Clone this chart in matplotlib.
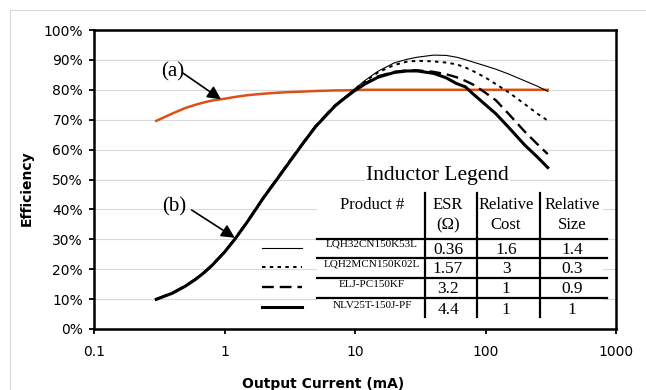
import matplotlib
matplotlib.use("Agg")
import matplotlib.pyplot as plt
from matplotlib.ticker import PercentFormatter, FixedLocator, FixedFormatter, NullLocator
from matplotlib.patches import Rectangle
from matplotlib.lines import Line2D

# output current (mA)
current = [0.3, 0.4, 0.5, 0.6, 0.7, 0.8, 1, 1.2, 1.5, 2, 2.5, 3, 4, 5, 6, 7, 8,
           10, 12, 15, 20, 25, 30, 40, 50, 60, 70, 80, 100, 120, 150, 200, 250, 300]

# curve (a), efficiency in %
eff_a = [69.6, 72.1, 73.9, 75.0, 75.8, 76.4, 77.0, 77.6, 78.2, 78.7, 79.0, 79.2, 79.4, 79.6, 79.7, 79.8, 79.8,
         79.9, 80, 80, 80, 80, 80, 80, 80, 80, 80, 80, 80, 80, 80, 80, 80, 80]

# curves (b), one per inductor, efficiency in %
eff_lqh32 = [10, 12.1, 14.4, 16.7, 19.0, 21.3, 25.8, 30.1, 36.0, 44.2, 50.0, 54.8, 62.3, 67.9, 71.6, 74.7, 76.8,
             80.4, 83.2, 86.2, 89.0, 90.2, 90.9, 91.6, 91.5, 90.9, 90.1, 89.3, 88.0, 86.9, 85.3, 83.0, 81.2, 79.5]
eff_lqh2m = [10, 12.1, 14.4, 16.7, 19.0, 21.3, 25.8, 30.1, 36.0, 44.2, 50.0, 54.8, 62.3, 67.9, 71.6, 74.7, 76.8,
             80.3, 82.9, 85.8, 88.3, 89.4, 89.7, 89.5, 89.1, 88.5, 87.5, 86.3, 84.1, 81.9, 79.2, 75.2, 72.0, 69.7]
eff_elj = [10, 12.1, 14.4, 16.7, 19.0, 21.3, 25.8, 30.1, 36.0, 44.2, 50.0, 54.8, 62.3, 67.9, 71.6, 74.7, 76.7,
           80.0, 82.2, 84.5, 86.0, 86.5, 86.5, 86.0, 85.2, 84.2, 83.0, 81.8, 79.0, 76.5, 72.0, 66.0, 61.8, 58.5]
eff_nlv = [9.9, 12.0, 14.3, 16.6, 18.9, 21.2, 25.7, 30.0, 35.9, 44.0, 49.8, 54.6, 62.1, 67.7, 71.4, 74.5, 76.6,
           79.8, 82.0, 84.2, 85.8, 86.3, 86.3, 85.5, 84.0, 82.1, 81.0, 78.7, 75.0, 72.0, 67.5, 61.5, 57.5, 54.0]

# legend table
products = ["LQH32CN150K53L", "LQH2MCN150K02L", "ELJ-PC150KF", "NLV25T-150J-PF"]
esr = ["0.36", "1.57", "3.2", "4.4"]
rel_cost = ["1.6", "3", "1", "1"]
rel_size = ["1.4", "0.3", "0.9", "1"]

xtick_vals = [0.1, 1, 10, 100, 1000]
xtick_labels = ["0.1", "1", "10", "100", "1000"]

W, H = 646, 390
SERIF = "Liberation Serif"

def fp(x, y):
    # pixel position (from top left) -> figure fraction
    return x / W, 1 - y / H

fig = plt.figure(figsize=(W / 100, H / 100), dpi=100)
fig.patch.set_facecolor("white")
ax = fig.add_axes([94 / W, 1 - 329 / H, 522 / W, 299 / H])

ax.plot(current, eff_a, color="#dc5014", lw=1.8, zorder=3)

styles = [
    dict(lw=0.8, ls="-"),
    dict(lw=1.4, ls=(0, (1.8, 2.2))),
    dict(lw=1.7, ls=(0, (5, 2.5))),
    dict(lw=2.2, ls="-"),
]
curves = [eff_lqh32, eff_lqh2m, eff_elj, eff_nlv]
for eff, st in zip(curves, styles):
    ax.plot(current, eff, color="black", zorder=4, **st)

ax.set_xscale("log")
ax.set_xlim(0.1, 1000)
ax.set_ylim(0, 100)
ax.xaxis.set_major_locator(FixedLocator(xtick_vals))
ax.xaxis.set_major_formatter(FixedFormatter(xtick_labels))
ax.xaxis.set_minor_locator(NullLocator())
ax.yaxis.set_major_locator(FixedLocator(range(0, 101, 10)))
ax.yaxis.set_major_formatter(PercentFormatter(100, decimals=0))
ax.grid(axis="y", color="#d9d9d9", lw=0.8)
ax.set_axisbelow(True)

for sp in ax.spines.values():
    sp.set_linewidth(1.8)
ax.tick_params(axis="both", direction="out", length=3.6, width=1.3, labelsize=10, colors="black")
ax.tick_params(axis="x", pad=8)
ax.tick_params(axis="y", pad=4.3)

ax.set_ylabel("Efficiency", fontsize=10, fontweight="bold")
ax.yaxis.set_label_coords(-0.115, 0.47)
ax.set_xlabel("Output Current (mA)", fontsize=10, fontweight="bold")
ax.xaxis.set_label_coords(0.439, -0.16)

# annotations (a) and (b)
ax.text(0.40, 86, "(a)", family=SERIF, fontsize=15, ha="center", va="center")
ax.annotate("", xy=(0.94, 76.8), xytext=(0.48, 85.6),
            arrowprops=dict(arrowstyle="-|>", color="black", lw=1.2, mutation_scale=20,
                            shrinkA=0, shrinkB=0))
ax.text(0.41, 40.8, "(b)", family=SERIF, fontsize=15, ha="center", va="center")
ax.annotate("", xy=(1.2, 30.5), xytext=(0.56, 39.8),
            arrowprops=dict(arrowstyle="-|>", color="black", lw=1.2, mutation_scale=20,
                            shrinkA=0, shrinkB=0))

# outer light border of the chart area
fig.add_artist(Line2D([10 / W, 10 / W], [0, 1 - 10 / H], color="#d9d9d9", lw=0.8))
fig.add_artist(Line2D([10 / W, 1], [1 - 10 / H, 1 - 10 / H], color="#d9d9d9", lw=0.8))

# legend table
x0, y0 = fp(317, 318)
x1, y1 = fp(603, 190)
fig.add_artist(Rectangle((x0, y0), x1 - x0, y1 - y0, transform=fig.transFigure,
                         facecolor="white", edgecolor="none", zorder=5))
tx, ty = fp(437, 176)
fig.text(tx, ty, "Inductor Legend", family=SERIF, fontsize=15.5, ha="center", va="center",
         zorder=6, bbox=dict(facecolor="white", edgecolor="none", pad=1))

col_x = [372, 448, 506, 572]
head1 = ["Product #", "ESR", "Relative", "Relative"]
head2 = ["", "(\u03a9)", "Cost", "Size"]
for cx, h1, h2 in zip(col_x, head1, head2):
    fig.text(*fp(cx, 205), h1, family=SERIF, fontsize=12, ha="center", va="center", zorder=6)
    if h2:
        fig.text(*fp(cx, 225), h2, family=SERIF, fontsize=12, ha="center", va="center", zorder=6)

for vx in [425, 477, 540]:
    a, b = fp(vx, 193)
    c, d = fp(vx, 317)
    fig.add_artist(Line2D([a, c], [b, d], color="black", lw=1.6, zorder=6))
for hy in [239, 258, 278, 298]:
    a, b = fp(317, hy)
    c, d = fp(607, hy)
    fig.add_artist(Line2D([a, c], [b, d], color="black", lw=1.6, zorder=6))

row_y = [248, 267, 287, 307]
name_base = [247, 267, 287, 308]
val_base = [253.5, 273, 293, 313.5]
for i, ry in enumerate(row_y):
    fig.text(*fp(col_x[0], name_base[i]), products[i], family=SERIF, fontsize=8,
             ha="center", va="baseline", zorder=6)
    fig.text(*fp(col_x[1], val_base[i]), esr[i], family=SERIF, fontsize=12.5,
             ha="center", va="baseline", zorder=6)
    fig.text(*fp(col_x[2], val_base[i]), rel_cost[i], family=SERIF, fontsize=12.5,
             ha="center", va="baseline", zorder=6)
    fig.text(*fp(col_x[3], val_base[i]), rel_size[i], family=SERIF, fontsize=12.5,
             ha="center", va="baseline", zorder=6)
    a, b = fp(262, ry)
    c, d = fp(302, ry)
    fig.add_artist(Line2D([a, c], [b, d], color="black", zorder=6, **styles[i]))

fig.savefig("out.png", dpi=100)
